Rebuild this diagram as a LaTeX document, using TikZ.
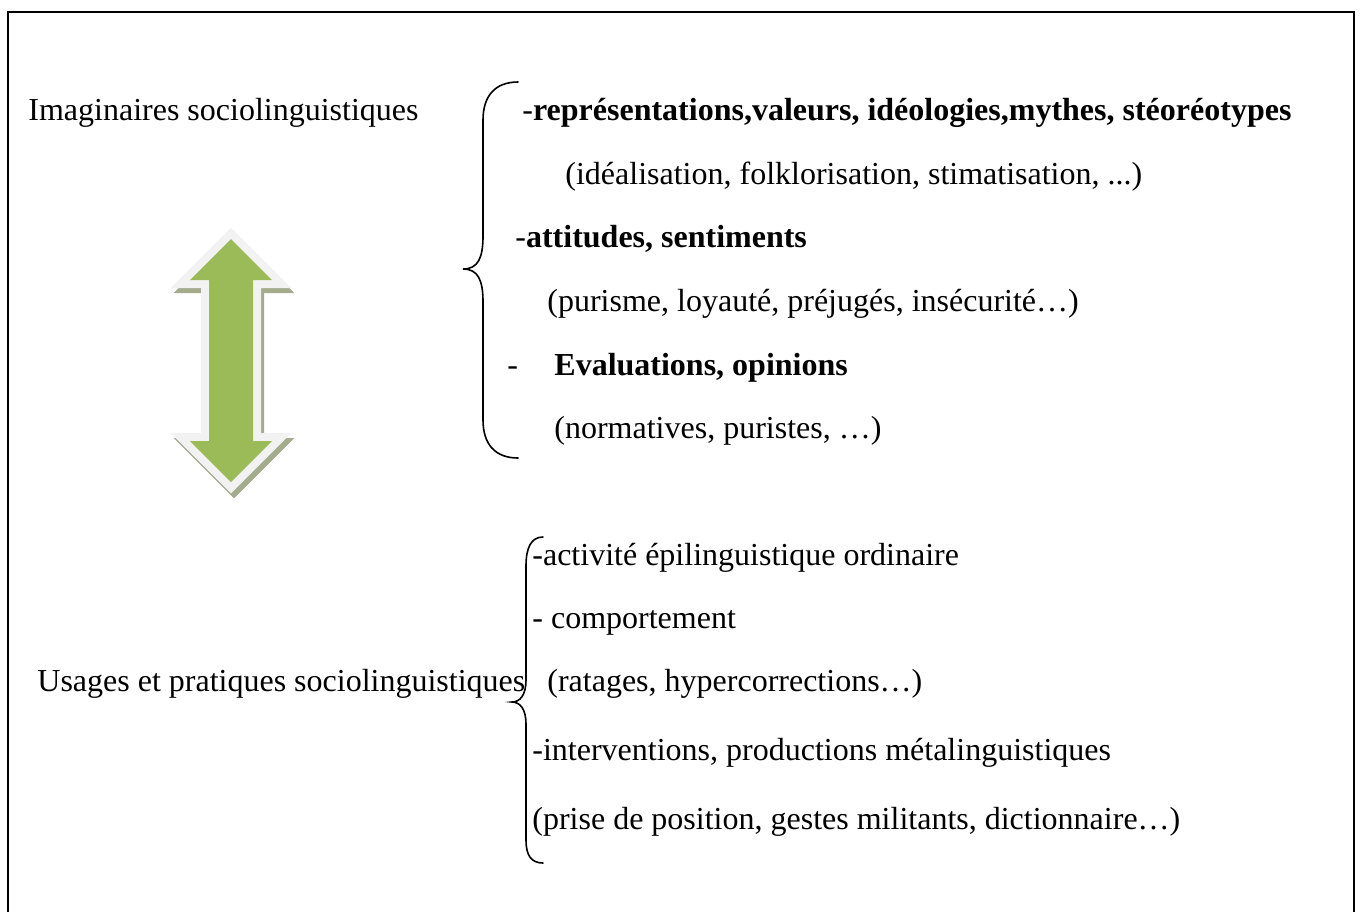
\documentclass[tikz,border=0pt]{standalone}
\usepackage{fontspec}
\setmainfont{Liberation Serif}
\definecolor{arrowgreen}{HTML}{9BBB59}
\definecolor{arrowrim}{HTML}{F2F2F2}
\definecolor{arrowshade}{HTML}{A5AC8E}
\tikzset{
  txt/.style={anchor=base west, inner sep=0pt, font=\fontsize{16}{19}\selectfont},
  accolade/.style={line width=0.8pt, line cap=round},
}
\begin{document}
\begin{tikzpicture}[x=0.5pt, y=-0.5pt]
        \useasboundingbox (0,0) rectangle (1360,911);
        %Cadre
        \draw [line width=1pt] (8,920) -- (8,12) -- (1354,12) -- (1354,920);
        %Fleche double
        \begin{scope}[shift={(3,5)}]
        \draw [arrowshade, fill=arrowshade, line width=8pt, miter limit=10] (231,239) -- (272,280) -- (253,280) -- (253,441) -- (272,441) -- (231,482) -- (190,441) -- (209,441) -- (209,280) -- (190,280) -- cycle;
        \end{scope}
        \draw [arrowrim, fill=arrowgreen, line width=8pt, miter limit=10] (231,239) -- (272,280) -- (253,280) -- (253,441) -- (272,441) -- (231,482) -- (190,441) -- (209,441) -- (209,280) -- (190,280) -- cycle;
        \fill [arrowgreen] (231,239) -- (272,280) -- (253,280) -- (253,441) -- (272,441) -- (231,482) -- (190,441) -- (209,441) -- (209,280) -- (190,280) -- cycle;
        %Textes gauche
        \node [txt] (imag) at (28,120) {Imaginaires sociolinguistiques};
        \node [txt] (usag) at (37,691) {Usages et pratiques sociolinguistiques};
        %Textes haut
        \node [txt] (rep) at (522,120) {-\textbf{représentations,valeurs, idéologies,mythes, stéoréotypes}};
        \node [txt] (ideal) at (565,184) {(idéalisation, folklorisation, stimatisation, ...)};
        \node [txt] (att) at (515,247) {-\textbf{attitudes, sentiments}};
        \node [txt] (pur) at (547,311) {(purisme, loyauté, préjugés, insécurité…)};
        \node [txt] (evdash) at (507,375) {-};
        \node [txt] (eval) at (554,375) {\textbf{Evaluations, opinions}};
        \node [txt] (norm) at (554,438) {(normatives, puristes, …)};
        %Textes bas
        \node [txt] (activ) at (532,565) {-activité épilinguistique ordinaire};
        \node [txt] (comp) at (532,628) {- comportement};
        \node [txt] (rat) at (547,691) {(ratages, hypercorrections…)};
        \node [txt] (interv) at (532,760) {-interventions, productions métalinguistiques};
        \node [txt] (prise) at (532,829) {(prise de position, gestes militants, dictionnaire…)};
        %Accolades
        \coordinate (imghaut) at (518,82); \coordinate (imgpointe) at (463,269); \coordinate (imgbas) at (518,458);
        \coordinate (usghaut) at (543,537); \coordinate (usgpointe) at (512,702); \coordinate (usgbas) at (543,863);
        \draw [accolade] (imghaut) .. controls (495,82) and (483,96) .. (483,120) -- (483,236) .. controls (483,258) and (478,269) .. (imgpointe) .. controls (478,269) and (483,280) .. (483,302) -- (483,420) .. controls (483,444) and (495,458) .. (imgbas);
        \draw [accolade] (usghaut) .. controls (531,537) and (526,548) .. (526,566) -- (526,680) .. controls (526,695) and (520,702) .. (usgpointe) .. controls (520,702) and (526,709) .. (526,724) -- (526,840) .. controls (526,855) and (531,863) .. (usgbas);
\end{tikzpicture}
\end{document}
